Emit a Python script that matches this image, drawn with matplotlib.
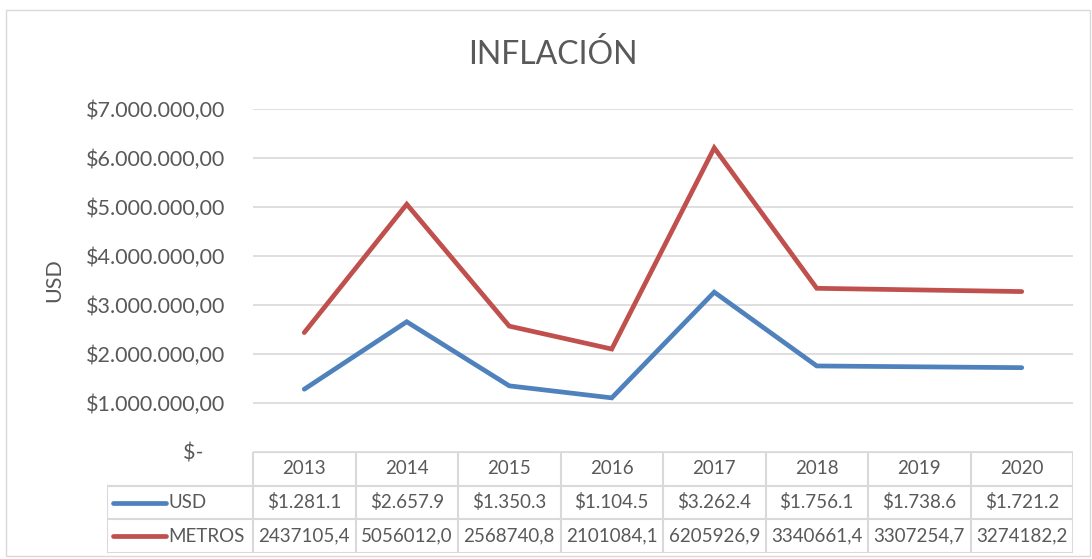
import matplotlib
matplotlib.use("Agg")
import matplotlib.pyplot as plt
from matplotlib.patches import Rectangle

years = ['2013', '2014', '2015', '2016', '2017', '2018', '2019', '2020']
usd = [1281100, 2657900, 1350300, 1104500, 3262400, 1756100, 1738600, 1721200]
usd_labels = ['$1.281.1', '$2.657.9', '$1.350.3', '$1.104.5', '$3.262.4', '$1.756.1', '$1.738.6', '$1.721.2']
metros = [2437105.4, 5056012.0, 2568740.8, 2101084.1, 6205926.9, 3340661.4, 3307254.7, 3274182.2]
metros_labels = ['2437105,4', '5056012,0', '2568740,8', '2101084,1', '6205926,9', '3340661,4', '3307254,7', '3274182,2']
yticks = [0, 1000000, 2000000, 3000000, 4000000, 5000000, 6000000, 7000000]
ytick_labels = ['$-    ', '$1.000.000,00', '$2.000.000,00', '$3.000.000,00', '$4.000.000,00',
                '$5.000.000,00', '$6.000.000,00', '$7.000.000,00']

plt.rcParams['font.family'] = ['Lato', 'DejaVu Sans']
txt = '#595959'
grid = '#d9d9d9'
blue = '#4f81bd'
red = '#c0504d'

W, H = 1092, 559
fig = plt.figure(figsize=(W / 100, H / 100), dpi=100)

def box(x0, y0, x1, y1):
    return [x0 / W, 1 - y1 / H, (x1 - x0) / W, (y1 - y0) / H]

# outer border
fig.patches.append(Rectangle((6 / W, 3 / H), (1090 - 6) / W, (549 - 3) / H,
                             transform=fig.transFigure, fill=False, edgecolor=grid, lw=1))

ax = fig.add_axes(box(253, 109, 1073, 452))
x = list(range(len(years)))
ax.plot(x, usd, color=blue, lw=3.4, solid_capstyle='round', solid_joinstyle='miter', zorder=3)
ax.plot(x, metros, color=red, lw=3.4, solid_capstyle='round', solid_joinstyle='miter', zorder=3)
ax.set_xlim(-0.5, 7.5)
ax.set_ylim(0, 7000000)
ax.set_yticks(yticks)
ax.set_yticklabels(ytick_labels, fontsize=15.5, color=txt)
ax.tick_params(axis='y', length=0, pad=20)
ax.set_xticks([])
for s in ax.spines.values():
    s.set_visible(False)
ax.grid(axis='y', color=grid, lw=1.2)
ax.set_axisbelow(True)
ax.set_ylabel('USD', fontsize=15.5, color=txt)
ax.yaxis.set_label_coords((64 - 253) / 820, 0.5)

fig.text(553 / W, 1 - 55 / H, 'INFLACIÓN', ha='center', va='center', fontsize=23, color=txt)

# data table
leg_w = (253 - 107) / ((1073 - 253) / 8)
tab = fig.add_axes(box(107, 452, 1073, 553))
tab.set_xlim(-0.5 - leg_w, 7.5)
tab.set_ylim(3, 0)
tab.axis('off')
n = len(years)
tab.plot([-0.5, n - 0.5], [0, 0], color=grid, lw=1.5)
for r in [1, 2, 3]:
    tab.plot([-0.5 - leg_w, n - 0.5], [r, r], color=grid, lw=1.5)
for c in range(n + 1):
    tab.plot([c - 0.5, c - 0.5], [0, 3], color=grid, lw=1.5)
tab.plot([-0.5 - leg_w, -0.5 - leg_w], [1, 3], color=grid, lw=1.5)
fs = 13.5
for i in range(n):
    tab.text(i, 0.5, years[i], ha='center', va='center', fontsize=fs, color=txt)
    tab.text(i, 1.5, usd_labels[i], ha='center', va='center', fontsize=fs, color=txt)
    tab.text(i, 2.5, metros_labels[i], ha='center', va='center', fontsize=fs, color=txt)
x0 = -0.5 - leg_w
tab.plot([x0 + 0.06, x0 + 0.58], [1.5, 1.5], color=blue, lw=3.4, solid_capstyle='round')
tab.plot([x0 + 0.06, x0 + 0.58], [2.5, 2.5], color=red, lw=3.4, solid_capstyle='round')
tab.text(x0 + 0.6, 1.5, 'USD', ha='left', va='center', fontsize=fs, color=txt)
tab.text(x0 + 0.6, 2.5, 'METROS', ha='left', va='center', fontsize=fs, color=txt)

fig.savefig('out.png', dpi=100)
